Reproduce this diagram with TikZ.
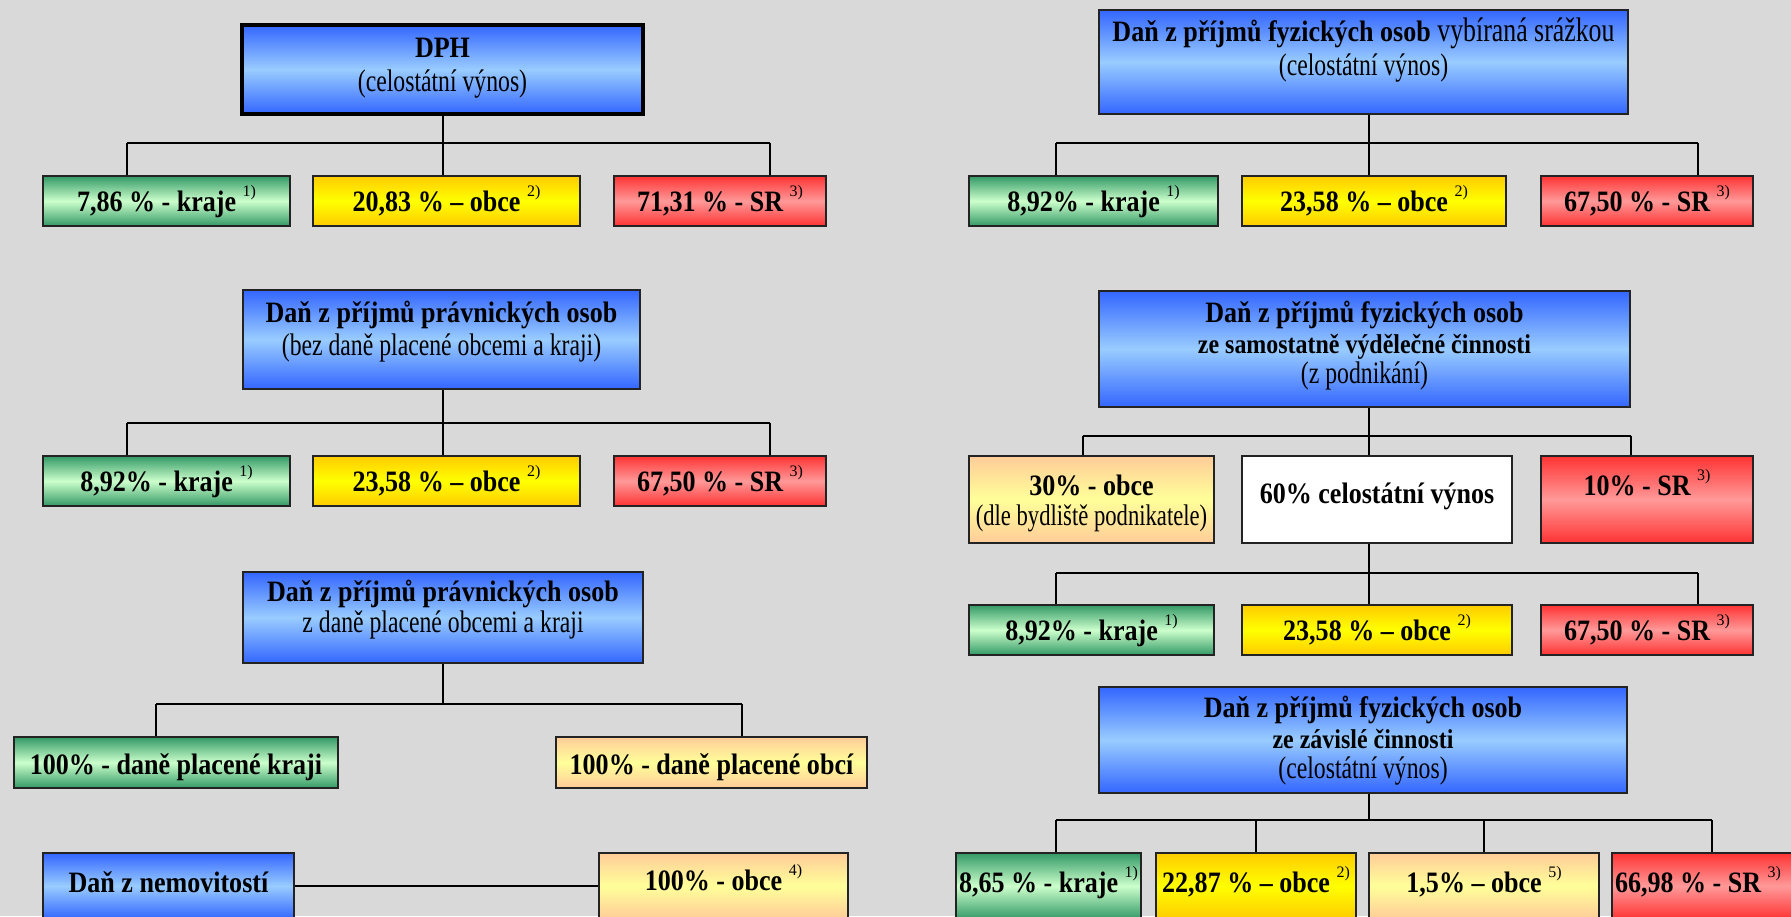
\documentclass[tikz,border=0pt]{standalone}
\usepackage{fontspec}
\setmainfont{Liberation Serif}
\newfontfamily\bdf{Liberation Serif}[FakeStretch=0.88]
\newfontfamily\rgf{Liberation Serif}[FakeStretch=0.76]
\usetikzlibrary{fit}
\definecolor{bg}{RGB}{217,217,217}
\definecolor{bordc}{RGB}{35,35,35}
\definecolor{bluedark}{RGB}{51,102,255}
\definecolor{bluelight}{RGB}{153,204,255}
\definecolor{greendark}{RGB}{51,153,102}
\definecolor{greenlight}{RGB}{204,255,204}
\definecolor{yeltop}{RGB}{255,204,0}
\definecolor{yelmid}{RGB}{255,255,0}
\definecolor{reddark}{RGB}{255,51,51}
\definecolor{redlight}{RGB}{255,153,153}
\definecolor{peachtop}{RGB}{255,204,153}
\definecolor{peachmid}{RGB}{255,255,153}
\newcommand\myfn[1]{\ {\normalfont\fontsize{8}{9}\selectfont\raisebox{7.5pt}{#1}}}
\tikzset{
  bx/.style={draw=bordc, line width=0.9pt, inner sep=0pt},
  blueb/.style={bx, top color=bluedark, bottom color=bluedark, middle color=bluelight},
  greenb/.style={bx, top color=greendark, bottom color=greendark, middle color=greenlight},
  yelb/.style={bx, top color=yeltop, bottom color=yeltop, middle color=yelmid},
  redb/.style={bx, top color=reddark, bottom color=reddark, middle color=redlight},
  peachb/.style={bx, top color=peachtop, bottom color=peachtop, middle color=peachmid},
  whiteb/.style={bx, fill=white},
  tb/.style={anchor=base, inner sep=0pt, font=\bdf\bfseries\fontsize{14.8}{17}\selectfont},
  tbs/.style={anchor=base, inner sep=0pt, font=\bdf\bfseries\fontsize{13.6}{16}\selectfont},
  tr/.style={anchor=base, inner sep=0pt, font=\rgf\fontsize{15.6}{18}\selectfont},
  trs/.style={anchor=base, inner sep=0pt, font=\rgf\fontsize{14.9}{17}\selectfont},
  ln/.style={line width=0.7pt, black},
}
\begin{document}
\begin{tikzpicture}[x=0.5pt,y=-0.5pt]
\useasboundingbox (0,0) rectangle (1791,916);
\clip (0,0) rectangle (1791,916);
\fill[bg] (0,0) rectangle (1791,916);

% ---------------- left column ----------------
\node[blueb, draw=black, line width=1.75pt, fit={(242,25) (643,114)}] (dph) {};
\node[tb] (dph-t1) at (442.5,57) {DPH};
\node[tr] (dph-t2) at (442.5,91) {(celostátní výnos)};

\node[greenb, fit={(43,176) (290,226)}] (l1g) {};
\node[yelb, fit={(313,176) (580,226)}] (l1y) {};
\node[redb, fit={(614,176) (826,226)}] (l1r) {};
\node[tb] (l1g-t) at (166.5,211) {7,86 \% - kraje\myfn{1)}};
\node[tb] (l1y-t) at (446.5,211) {20,83 \% – obce\myfn{2)}};
\node[tb] (l1r-t) at (720,211) {71,31 \% - SR\myfn{3)}};

\coordinate (j1) at (443,143);
\coordinate (j1a) at (127,143);
\coordinate (j1c) at (770,143);
\draw[ln] (dph.south -| j1) -- (j1);
\draw[ln] (j1a) -- (j1c);
\draw[ln] (j1a) -- (j1a |- l1g.north);
\draw[ln] (j1) -- (j1 |- l1y.north);
\draw[ln] (j1c) -- (j1c |- l1r.north);

\node[blueb, fit={(243,290) (640,389)}] (ppo1) {};
\node[tb] (ppo1-t1) at (441.5,322) {Daň z příjmů právnických osob};
\node[tr] (ppo1-t2) at (441.5,355) {(bez daně placené obcemi a kraji)};

\node[greenb, fit={(43,456) (290,506)}] (l2g) {};
\node[yelb, fit={(313,456) (580,506)}] (l2y) {};
\node[redb, fit={(614,456) (826,506)}] (l2r) {};
\node[tb] (l2g-t) at (166.5,491) {8,92\% - kraje\myfn{1)}};
\node[tb] (l2y-t) at (446.5,491) {23,58 \% – obce\myfn{2)}};
\node[tb] (l2r-t) at (720,491) {67,50 \% - SR\myfn{3)}};

\coordinate (j2) at (443,423);
\coordinate (j2a) at (127,423);
\coordinate (j2c) at (770,423);
\draw[ln] (ppo1.south -| j2) -- (j2);
\draw[ln] (j2a) -- (j2c);
\draw[ln] (j2a) -- (j2a |- l2g.north);
\draw[ln] (j2) -- (j2 |- l2y.north);
\draw[ln] (j2c) -- (j2c |- l2r.north);

\node[blueb, fit={(243,572) (643,663)}] (ppo2) {};
\node[tb] (ppo2-t1) at (443,601) {Daň z příjmů právnických osob};
\node[tr] (ppo2-t2) at (443,632) {z daně placené obcemi a kraji};

\node[greenb, fit={(14,737) (338,788)}] (l3g) {};
\node[peachb, fit={(556,737) (867,788)}] (l3o) {};
\node[tb] (l3g-t) at (176,774) {100\% - daně placené kraji};
\node[tb] (l3o-t) at (711.5,774) {100\% - daně placené obcí};

\coordinate (j3) at (443,704);
\coordinate (j3a) at (156,704);
\coordinate (j3c) at (742,704);
\draw[ln] (ppo2.south -| j3) -- (j3);
\draw[ln] (j3a) -- (j3c);
\draw[ln] (j3a) -- (j3a |- l3g.north);
\draw[ln] (j3c) -- (j3c |- l3o.north);

\node[blueb, fit={(43,853) (294,919)}] (nem) {};
\node[peachb, fit={(599,853) (848,919)}] (obce4) {};
\node[tb] (nem-t) at (168.5,892) {Daň z nemovitostí};
\node[tb] (obce4-t) at (723.5,890) {100\% - obce\myfn{4)}};
\draw[ln] (nem) -- (obce4);

% ---------------- right column ----------------
\node[blueb, fit={(1099,10) (1628,114)}] (srazka) {};
\node[tb] (srazka-t1) at (1363.5,41) {Daň z příjmů fyzických osob {\rgf\mdseries\fontsize{17}{18}\selectfont vybíraná srážkou}};
\node[tr] (srazka-t2) at (1363.5,75) {(celostátní výnos)};

\node[greenb, fit={(969,176) (1218,226)}] (r1g) {};
\node[yelb, fit={(1242,176) (1506,226)}] (r1y) {};
\node[redb, fit={(1541,176) (1753,226)}] (r1r) {};
\node[tb] (r1g-t) at (1093.5,211) {8,92\% - kraje\myfn{1)}};
\node[tb] (r1y-t) at (1374,211) {23,58 \% – obce\myfn{2)}};
\node[tb] (r1r-t) at (1647,211) {67,50 \% - SR\myfn{3)}};

\coordinate (k1) at (1369,143);
\coordinate (k1a) at (1056,143);
\coordinate (k1c) at (1698,143);
\draw[ln] (srazka.south -| k1) -- (k1);
\draw[ln] (k1a) -- (k1c);
\draw[ln] (k1a) -- (k1a |- r1g.north);
\draw[ln] (k1) -- (k1 |- r1y.north);
\draw[ln] (k1c) -- (k1c |- r1r.north);

\node[blueb, fit={(1099,291) (1630,407)}] (fos) {};
\node[tb] (fos-t1) at (1364.5,322) {Daň z příjmů fyzických osob};
\node[tbs] (fos-t2) at (1364.5,353) {ze samostatně výdělečné činnosti};
\node[tr] (fos-t3) at (1364.5,383) {(z podnikání)};

\node[peachb, fit={(969,456) (1214,543)}] (r2o) {};
\node[whiteb, fit={(1242,456) (1512,543)}] (r2w) {};
\node[redb, fit={(1541,456) (1753,543)}] (r2r) {};
\node[tb] (r2o-t1) at (1091.5,495) {30\% - obce};
\node[trs] (r2o-t2) at (1091.5,525) {(dle bydliště podnikatele)};
\node[tb] (r2w-t) at (1377,503) {60\% celostátní výnos};
\node[tb] (r2r-t) at (1647,495) {10\% - SR\myfn{3)}};

\coordinate (k2) at (1369,436);
\coordinate (k2a) at (1083,436);
\coordinate (k2c) at (1631,436);
\draw[ln] (fos.south -| k2) -- (k2);
\draw[ln] (k2a) -- (k2c);
\draw[ln] (k2a) -- (k2a |- r2o.north);
\draw[ln] (k2) -- (k2 |- r2w.north);
\draw[ln] (k2c) -- (k2c |- r2r.north);

\node[greenb, fit={(969,605) (1214,655)}] (r3g) {};
\node[yelb, fit={(1242,605) (1512,655)}] (r3y) {};
\node[redb, fit={(1541,605) (1753,655)}] (r3r) {};
\node[tb] (r3g-t) at (1091.5,640) {8,92\% - kraje\myfn{1)}};
\node[tb] (r3y-t) at (1377,640) {23,58 \% – obce\myfn{2)}};
\node[tb] (r3r-t) at (1647,640) {67,50 \% - SR\myfn{3)}};

\coordinate (k3) at (1369,573);
\coordinate (k3a) at (1056,573);
\coordinate (k3c) at (1698,573);
\draw[ln] (r2w.south -| k3) -- (k3);
\draw[ln] (k3a) -- (k3c);
\draw[ln] (k3a) -- (k3a |- r3g.north);
\draw[ln] (k3) -- (k3 |- r3y.north);
\draw[ln] (k3c) -- (k3c |- r3r.north);

\node[blueb, fit={(1099,687) (1627,793)}] (zav) {};
\node[tb] (zav-t1) at (1363,717) {Daň z příjmů fyzických osob};
\node[tbs] (zav-t2) at (1363,748) {ze závislé činnosti};
\node[tr] (zav-t3) at (1363,778) {(celostátní výnos)};

\node[greenb, fit={(956,853) (1141,919)}] (r4g) {};
\node[yelb, fit={(1156,853) (1356,919)}] (r4y) {};
\node[peachb, fit={(1369,853) (1599,919)}] (r4o) {};
\node[redb, fit={(1612,853) (1830,919)}] (r4r) {};
\node[tb] (r4g-t) at (1048.5,892) {8,65 \% - kraje\myfn{1)}};
\node[tb] (r4y-t) at (1256,892) {22,87 \% – obce\myfn{2)}};
\node[tb] (r4o-t) at (1484,892) {1,5\% – obce\myfn{5)}};
\node[tb] (r4r-t) at (1698,892) {66,98 \% - SR\myfn{3)}};

\coordinate (k4) at (1369,820);
\coordinate (k4a) at (1056,820);
\coordinate (k4b) at (1256,820);
\coordinate (k4c) at (1484,820);
\coordinate (k4d) at (1712,820);
\draw[ln] (zav.south -| k4) -- (k4);
\draw[ln] (k4a) -- (k4d);
\draw[ln] (k4a) -- (k4a |- r4g.north);
\draw[ln] (k4b) -- (k4b |- r4y.north);
\draw[ln] (k4c) -- (k4c |- r4o.north);
\draw[ln] (k4d) -- (k4d |- r4r.north);
\end{tikzpicture}
\end{document}
